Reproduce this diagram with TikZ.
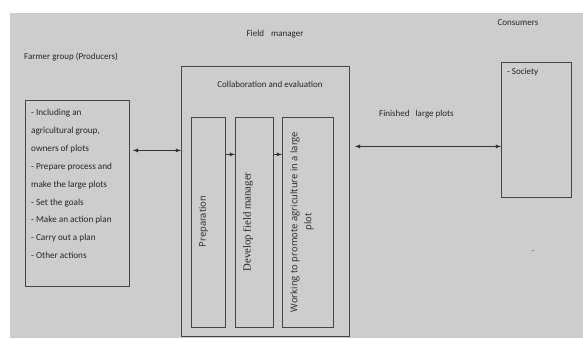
\documentclass[tikz,border=0pt]{standalone}
\usepackage{fontspec}
\setmainfont{Carlito}
\newfontfamily\seriffont{Liberation Serif}
\newfontfamily\widefont{Open Sans}
\usetikzlibrary{positioning}
\definecolor{bggray}{RGB}{205,205,205}
\definecolor{linegray}{RGB}{70,70,70}

\begin{document}
\begin{tikzpicture}[x=1pt,y=-1pt,
  box/.style={draw=linegray,line width=0.8pt,inner sep=0pt,anchor=north west},
  txt/.style={inner sep=0pt,text=black!85,font=\fontsize{9}{11}\selectfont},
  vtxt/.style={txt,rotate=90,align=center,font=\widefont\fontsize{9.4}{14}\selectfont},
  link/.style={draw=black!80,line width=0.8pt,>=latex}]
\useasboundingbox (0,0) rectangle (583,338);
\fill[bggray] (10,13) rectangle (583,338);

% boxes
\node[box,minimum width=104pt,minimum height=186pt] (farmers) at (25,100) {};
\node[box,minimum width=168pt,minimum height=270pt] (manager) at (181,66) {};
\node[box,minimum width=34pt,minimum height=210pt] (prep) at (191,117) {};
\node[box,minimum width=38pt,minimum height=210pt] (develop) at (235,117) {};
\node[box,minimum width=51pt,minimum height=210pt] (work) at (282,117) {};
\node[box,minimum width=70pt,minimum height=135pt] (society) at (501,62) {};

% labels
\node[txt] (fieldlbl) at (275,34) {Field\hspace{7pt}manager};
\node[txt] (consumerlbl) at (518,23) {Consumers};
\node[txt,anchor=west] (farmerlbl) at (24,57) {Farmer group (Producers)};
\node[txt] (collablbl) at (270,84) {Collaboration and evaluation};
\node[txt,anchor=west] (finishedlbl) at (379,114) {Finished\hspace{6pt}large plots};
\node[txt,anchor=west] (societylbl) at (507,72) {- Society};
\node[txt,text=black!55] (dashlbl) at (533,252) {--};
\node[txt,anchor=north west,align=left,font=\fontsize{9.2}{17.9}\selectfont] (farmlist) at (31,109)
  {- Including an\\ agricultural group,\\ owners of plots\\ - Prepare process and\\
   make the large plots\\ - Set the goals\\ - Make an action plan\\ - Carry out a plan\\ - Other actions};
\node[vtxt] (preplbl) at (203.5,221.5) {Preparation};
\node[vtxt,font=\seriffont\fontsize{10.8}{13}\selectfont] (developlbl) at (248,222) {Develop field manager};
\node[vtxt] (worklbl) at (302,222) {Working to promote agriculture in a large\\ plot};

% arrows
\draw[link,<->,shorten <=3pt] ([yshift=43pt]farmers.east) -- ([yshift=43pt]farmers.east -| manager.west);
\draw[link,->] ([yshift=68pt]prep.east) -- ([yshift=68pt]develop.west);
\draw[link,->] ([yshift=68pt]develop.east) -- ([yshift=68pt]work.west);
\draw[link,<->,shorten <=5pt] ([yshift=-16.5pt]society.west -| manager.east) -- ([yshift=-16.5pt]society.west);
\end{tikzpicture}
\end{document}
